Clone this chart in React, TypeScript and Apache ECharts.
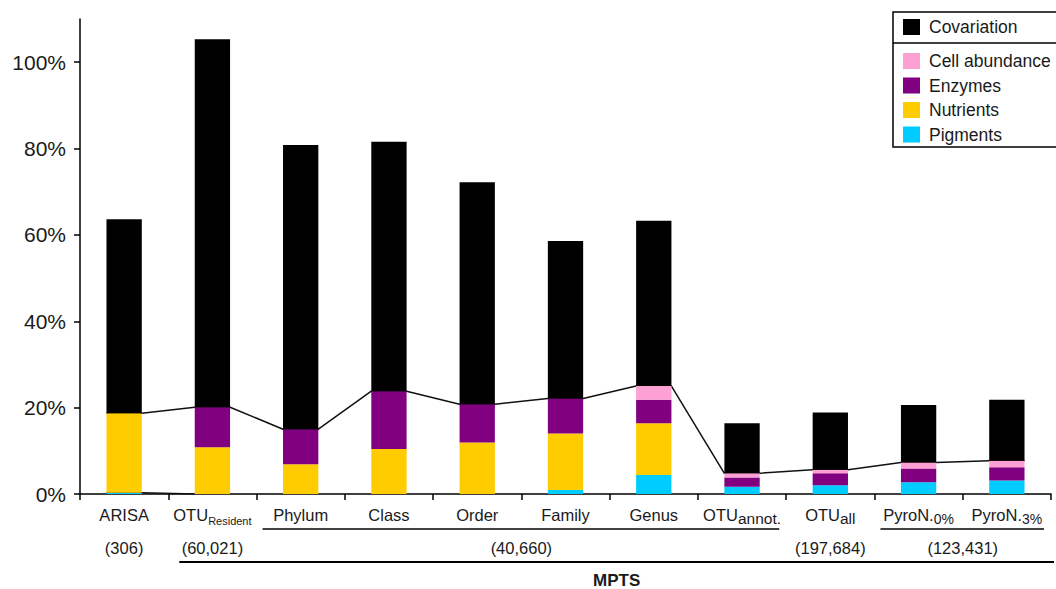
import React, { useEffect, useRef } from 'react';
import * as echarts from 'echarts';

const categories = ['ARISA', 'OTU_Resident', 'Phylum', 'Class', 'Order', 'Family', 'Genus', 'OTU_annot', 'OTU_all', 'PyroN.0%', 'PyroN.3%'];
const categoryLabels = ['ARISA', 'OTU{sr|Resident}', 'Phylum', 'Class', 'Order', 'Family', 'Genus', 'OTU{sa|annot.}', 'OTU{sa|all}', 'PyroN.{sp|0%}', 'PyroN.{sp|3%}'];
const pigments = [0.3, 0, 0, 0, 0, 0.9, 4.4, 1.7, 2.0, 2.7, 3.1];
const nutrients = [18.4, 10.8, 6.9, 10.4, 11.9, 13.1, 12.0, 0, 0, 0, 0];
const enzymes = [0, 9.3, 8.1, 13.4, 8.9, 8.1, 5.4, 2.1, 2.8, 3.2, 3.1];
const cellAbundance = [0, 0, 0, 0, 0, 0, 3.2, 1.0, 0.8, 1.4, 1.5];
const covariation = [44.9, 85.2, 65.8, 57.8, 51.4, 36.5, 38.3, 11.6, 13.3, 13.3, 14.1];
const yTicks = [0, 20, 40, 60, 80, 100];
const countGroups = [
  { label: '(306)', from: 0, to: 0, underline: false },
  { label: '(60,021)', from: 1, to: 1, underline: false },
  { label: '(40,660)', from: 2, to: 7, underline: true },
  { label: '(197,684)', from: 8, to: 8, underline: false },
  { label: '(123,431)', from: 9, to: 10, underline: true },
];
const superGroup = { label: 'MPTS', from: 1, to: 10 };

const FONT = '"Liberation Sans", Arial, sans-serif';
const TEXT = '#1a1a1a';

export default function App() {
  const ref = useRef<HTMLDivElement>(null);
  useEffect(() => {
    const chart = echarts.init(ref.current!, null, { renderer: 'svg' });
    const halfBar = 0.2;
    const stackTops = categories.map((_, i) => pigments[i] + nutrients[i] + enzymes[i] + cellAbundance[i]);
    const uniqueLine: number[][] = [];
    stackTops.forEach((v, i) => {
      uniqueLine.push([i - halfBar, v]);
      uniqueLine.push([i + halfBar, v]);
    });
    const baseLine = [
      [0 - halfBar, pigments[0]],
      [0 + halfBar, pigments[0]],
      [1 - halfBar, pigments[1]],
    ];
    const bar = (name: string, data: number[], color: string) => ({
      name,
      type: 'bar',
      stack: 'total',
      barWidth: '40%',
      xAxisIndex: 0,
      yAxisIndex: 0,
      z: 3,
      itemStyle: { color },
      data,
    });
    const legendText = { fontSize: 17.5, color: TEXT, fontFamily: FONT, padding: [0, 0, 0, 4] };
    chart.setOption({
      animation: false,
      textStyle: { fontFamily: FONT },
      grid: { left: 80, right: 5, top: 19, bottom: 95, containLabel: false },
      legend: [
        {
          data: ['Covariation'],
          left: 903,
          top: 18,
          itemWidth: 17,
          itemHeight: 16,
          icon: 'rect',
          padding: 0,
          textStyle: legendText,
          selectedMode: false,
        },
        {
          data: ['Cell abundance', 'Enzymes', 'Nutrients', 'Pigments'],
          orient: 'vertical',
          left: 903,
          top: 52,
          itemWidth: 17,
          itemHeight: 16,
          itemGap: 6.5,
          icon: 'rect',
          padding: 0,
          textStyle: legendText,
          selectedMode: false,
        },
      ],
      xAxis: [
        {
          type: 'category',
          data: categories,
          boundaryGap: true,
          axisLine: { lineStyle: { color: '#000', width: 1.5 } },
          axisTick: { show: true, length: 6, lineStyle: { color: '#000', width: 1.5 } },
          axisLabel: {
            interval: 0,
            margin: 10,
            color: TEXT,
            fontSize: 16.5,
            fontFamily: FONT,
            formatter: (_: string, i: number) => categoryLabels[i],
            lineHeight: 22,
            rich: {
              sr: { fontSize: 11, lineHeight: 11, verticalAlign: 'bottom', color: TEXT, fontFamily: FONT },
              sa: { fontSize: 15.5, lineHeight: 15, verticalAlign: 'bottom', color: TEXT, fontFamily: FONT },
              sp: { fontSize: 14, lineHeight: 14, verticalAlign: 'bottom', color: TEXT, fontFamily: FONT },
            },
          },
          splitLine: { show: false },
        },
        {
          type: 'value',
          min: -0.5,
          max: categories.length - 0.5,
          show: false,
          gridIndex: 0,
        },
      ],
      yAxis: {
        type: 'value',
        min: 0,
        max: 110,
        interval: 20,
        axisLine: { show: true, onZero: false, lineStyle: { color: '#000', width: 1.5 } },
        axisTick: { show: true, length: 6, lineStyle: { color: '#000', width: 1.5 }, customValues: yTicks },
        axisLabel: {
          margin: 14,
          color: TEXT,
          fontSize: 21,
          fontFamily: FONT,
          customValues: yTicks,
          formatter: (v: number) => `${v}%`,
        },
        splitLine: { show: false },
      },
      series: [
        bar('Pigments', pigments, '#00CCFF'),
        bar('Nutrients', nutrients, '#FFCC00'),
        bar('Enzymes', enzymes, '#800080'),
        bar('Cell abundance', cellAbundance, '#FFA0D4'),
        bar('Covariation', covariation, '#000000'),
        {
          name: 'unique',
          type: 'line',
          xAxisIndex: 1,
          yAxisIndex: 0,
          z: 1,
          symbol: 'none',
          lineStyle: { color: '#111', width: 1.5 },
          data: uniqueLine,
        },
        {
          name: 'base',
          type: 'line',
          xAxisIndex: 1,
          yAxisIndex: 0,
          z: 1,
          symbol: 'none',
          lineStyle: { color: '#111', width: 1.5 },
          data: baseLine,
        },
      ],
    });

    const px = (i: number) => chart.convertToPixel({ xAxisIndex: 0 }, i) as number;
    const band = px(1) - px(0);
    const left = (i: number) => px(i) - band / 2;
    const right = (i: number) => px(i) + band / 2;
    const graphics: any[] = [
      {
        type: 'rect',
        shape: { x: 893, y: 12, width: 200, height: 135 },
        style: { fill: 'none', stroke: '#000', lineWidth: 1.5 },
        z: 10,
      },
      {
        type: 'line',
        shape: { x1: 893, y1: 43, x2: 1093, y2: 43 },
        style: { stroke: '#000', lineWidth: 1.5 },
        z: 10,
      },
    ];
    countGroups.forEach((g) => {
      const cx = (px(g.from) + px(g.to)) / 2;
      graphics.push({
        type: 'text',
        x: cx,
        y: 548,
        style: { text: g.label, fill: TEXT, font: `16.5px ${FONT}`, textAlign: 'center', textVerticalAlign: 'middle' },
      });
      if (g.underline) {
        graphics.push({
          type: 'line',
          shape: { x1: left(g.from) + 6, y1: 529, x2: right(g.to) - 7, y2: 529 },
          style: { stroke: '#000', lineWidth: 1.3 },
        });
      }
    });
    graphics.push({
      type: 'line',
      shape: { x1: left(superGroup.from) + 11, y1: 562, x2: right(superGroup.to) + 3, y2: 562 },
      style: { stroke: '#000', lineWidth: 2 },
    });
    graphics.push({
      type: 'text',
      x: (left(superGroup.from) + 11 + right(superGroup.to) + 3) / 2,
      y: 580,
      style: { text: superGroup.label, fill: TEXT, font: `bold 17px ${FONT}`, textAlign: 'center', textVerticalAlign: 'middle' },
    });
    chart.setOption({ graphic: graphics });

    return () => chart.dispose();
  }, []);
  return <div ref={ref} style={{ position: 'fixed', left: 0, top: 0, width: 1056, height: 589, background: '#fff' }} />;
}
